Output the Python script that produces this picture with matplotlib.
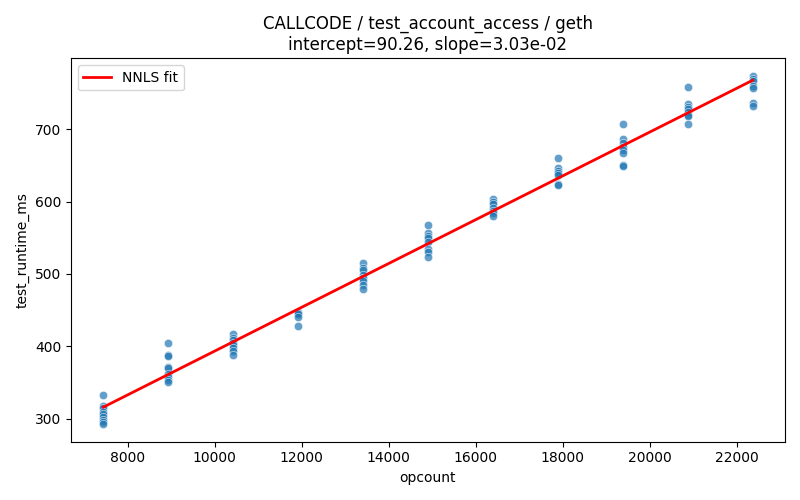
import numpy as np
import pandas as pd
import matplotlib
matplotlib.use("Agg")
import matplotlib.pyplot as plt
import seaborn as sns

# opcount levels and measured runtimes (ms) per level
opcounts = [7440, 8932, 10424, 11916, 13408, 14900, 16392, 17884, 19376, 20868, 22360]
runtimes = [
    [332, 318, 315, 309, 306, 302, 298, 295, 292],
    [405, 388, 386, 371, 370, 362, 357, 353, 350],
    [417, 412, 408, 404, 401, 397, 393, 388],
    [448, 446, 444, 440, 428],
    [515, 508, 506, 498, 495, 490, 485, 479],
    [567, 556, 553, 549, 544, 535, 531, 524],
    [604, 600, 597, 591, 587, 584, 580],
    [660, 647, 643, 639, 637, 625, 623],
    [708, 686, 681, 675, 671, 667, 651, 649],
    [758, 735, 731, 728, 724, 720, 718, 707],
    [774, 770, 767, 760, 757, 737, 732],
]
intercept = 90.26
slope = 3.03e-02

rows = []
for x, ys in zip(opcounts, runtimes):
    for y in ys:
        rows.append((x, y))
df = pd.DataFrame(rows, columns=["opcount", "test_runtime_ms"])

fig, ax = plt.subplots(figsize=(8, 5), dpi=100)
sns.scatterplot(data=df, x="opcount", y="test_runtime_ms", alpha=0.7, ax=ax)

xs = np.array([min(opcounts), max(opcounts)])
ax.plot(xs, intercept + slope * xs, color="red", linewidth=2, label="NNLS fit")

ax.set_title(f"CALLCODE / test_account_access / geth\nintercept={intercept:.2f}, slope={slope:.2e}")
ax.legend(loc="upper left")
fig.tight_layout()
fig.savefig("out.png")
